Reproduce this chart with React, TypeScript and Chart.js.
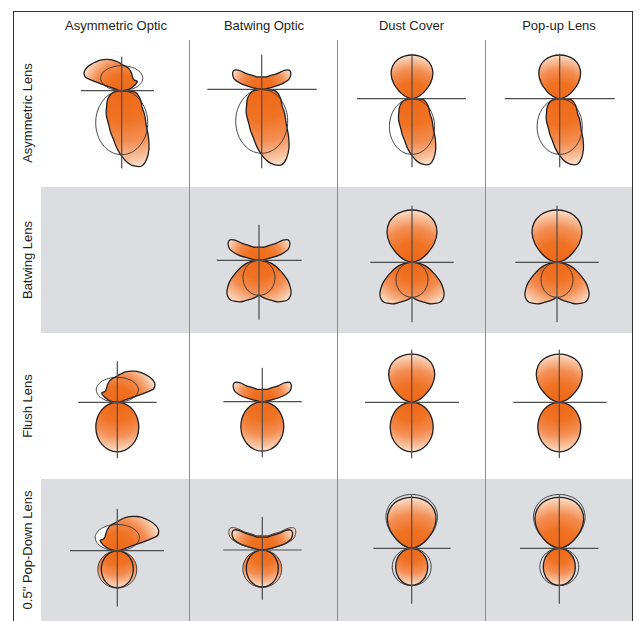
import React, { useEffect, useRef } from 'react';
import { Chart, registerables } from 'chart.js';

Chart.register(...registerables);

const W = 639;
const H = 621;

// Categories
const OPTICS = ['Asymmetric Optic', 'Batwing Optic', 'Dust Cover', 'Pop-up Lens'];
const LENSES = ['Asymmetric Lens', 'Batwing Lens', 'Flush Lens', '0.5" Pop-Down Lens'];

// Relative intensity, full distributions from -90° to +90° in 5° steps (0° = lobe axis)
const DOWN_ASYMMETRIC_LENS = [0, 4, 8, 10.4, 12.2, 14, 15.8, 17.6, 19.4, 21.2, 23.9, 27.1, 30.2, 33.3, 37.2, 43, 48.8, 57.3, 65.5, 72.6, 76.7, 78, 73, 64.5, 53.6, 42.9, 36.8, 31.8, 26.9, 24.3, 22.4, 20.6, 18.8, 17, 15.2, 13, 0];
const UP_ASYMMETRIC_OPTIC = [0, 3, 6, 9.5, 12.3, 15.3, 18.1, 17.5, 16.5, 16.5, 17.2, 18.3, 19.8, 21.3, 22.7, 23.7, 24.5, 25.2, 26.3, 28, 29.7, 31.4, 33, 34.5, 35.9, 37.2, 38.4, 39.5, 40.6, 41.6, 42.1, 41.6, 38, 6, 4, 2, 0];

// Symmetric distributions, 0°..90°
const UP_BATWING_OPTIC = [12.3, 12.4, 12.6, 12.8, 13.1, 14, 15.5, 17.3, 19.3, 22.5, 29.5, 33.5, 33.5, 31.8, 28.8, 21, 8.5, 3, 0];
const DOWN_BATWING_LENS = [35, 37, 38.9, 40.9, 43.4, 45.9, 47.4, 48.7, 48, 45.4, 40.6, 35.1, 28.5, 22.6, 18.2, 13.8, 9, 5, 0];
const UP_DUST_COVER = [52.3, 51.7, 49.9, 45.8, 38.9, 28.8, 17.6, 9.4, 2.5, 0];
const DOWN_FLUSH_LENS = [49.5, 48.3, 44.8, 39.7, 33.4, 26.7, 19.9, 13.2, 6.5, 0];
const DOWN_POPDOWN_LENS = [37, 36.1, 33.5, 29.6, 24.9, 19.9, 14.8, 9.8, 4.8, 0];

// Reference (comparison) outlines, symmetric 0°..90°
const REF_DOWN_ASYMMETRIC = [64, 62.1, 56.7, 49.1, 40.4, 31.6, 23.1, 15.1, 7.4, 0];
const REF_DOWN_BATWING = [35, 34.3, 32.2, 28.9, 24.8, 20.2, 15.3, 10.2, 5.1, 0];
const REF_DOWN_POPDOWN = [37.4, 36.9, 35.5, 33.1, 29.6, 25.2, 19.9, 13.8, 7, 0];
const REF_UP_ASYMMETRIC = [25, 25.1, 25.4, 25.8, 26.1, 25.9, 24.3, 19.9, 11.6, 0];

// Per-cell intensity multipliers [lens row][optic column]
const DOWN_SCALE = [
  [1, 1, 0.87, 0.87],
  [0, 1, 1, 1],
  [1, 1, 1, 1],
  [1, 1, 1, 1],
];
const UP_SCALE = [
  [1, 1, 0.836, 0.836],
  [0, 1.06, 1, 1],
  [1, 1, 0.923, 0.923],
  [1.1, 1.04, 0.975, 0.975],
];
const REF_UP_SCALE = [
  [1, 0, 0, 0],
  [0, 0, 0, 0],
  [1, 0, 0, 0],
  [1.05, 1.15, 1.03, 1.03],
];
// aiming side of the asymmetric optic per lens row (-1 = left, 1 = right)
const ASYM_AIM = [-1, 1, 1, 1];

// ---------- layout (positions only) ----------
const ROW_TOP = [40, 186.7, 332.7, 479.3];
const ROW_BOTTOM = [186.7, 332.7, 479.3, 625];
const COL_SEP = [189.5, 337.5, 485.3];
const COL_CENTER = [116, 264, 411.5, 559];
const GRID_LEFT = 41;
const GRID_RIGHT = 632;

type Cell = { o: [number, number]; c: [number, number, number, number] } | null;
const LAYOUT: Cell[][] = [
  [
    { o: [121.7, 90.7], c: [40.7, 32.3, 33.7, 77.3] },
    { o: [261.7, 89.3], c: [54.4, 55, 34.3, 78.4] },
    { o: [412, 98.7], c: [55, 54, 44.7, 68] },
    { o: [559.7, 98.7], c: [55, 55, 44.7, 68] },
  ],
  [
    null,
    { o: [259, 260.3], c: [42.3, 42.7, 35.3, 59] },
    { o: [412, 262.3], c: [41.7, 41.7, 56.3, 59.4] },
    { o: [557, 262.3], c: [41.7, 41.7, 56.3, 59.4] },
  ],
  [
    { o: [117.3, 402.3], c: [39, 39.3, 40.6, 55.4] },
    { o: [262.3, 401.7], c: [39, 39.4, 33.4, 55] },
    { o: [411.7, 402.3], c: [46.7, 47.3, 52.3, 55.4] },
    { o: [559.3, 402.3], c: [46, 47.3, 52.3, 55.4] },
  ],
  [
    { o: [117.3, 550.7], c: [47.3, 46.7, 41.4, 55.3] },
    { o: [262.3, 550], c: [39, 39.4, 32.7, 49.3] },
    { o: [411.7, 548.3], c: [38.4, 39, 52.6, 55] },
    { o: [559.3, 548.3], c: [39.3, 39, 52.6, 55] },
  ],
];

const LOBE_STOPS: [number, string][] = [
  [0, '#ee6818'],
  [0.38, '#f07223'],
  [0.66, '#f38d52'],
  [0.9, '#f9c6a4'],
  [1, '#fde4d4'],
];

type Sample = [number, number];
const full = (v: number[]): Sample[] => {
  const step = 180 / (v.length - 1);
  return v.map((r, i) => [-90 + i * step, r] as Sample);
};
const sym = (v: number[]): Sample[] => {
  const step = 90 / (v.length - 1);
  const out: Sample[] = [];
  for (let i = v.length - 1; i > 0; i--) out.push([-i * step, v[i]]);
  v.forEach((r, i) => out.push([i * step, r]));
  return out;
};

type Curve = {
  kind: 'lobe' | 'ref';
  pts: Sample[];
  dir: number;
  scale: number;
  mirror: number;
  fill?: 'white' | 'grad' | null;
};

function cellCurves(row: number, col: number): Curve[] {
  const list: Curve[] = [];
  const ds = DOWN_SCALE[row][col];
  if (!ds) return list;
  const downShape = [full(DOWN_ASYMMETRIC_LENS), sym(DOWN_BATWING_LENS), sym(DOWN_FLUSH_LENS), sym(DOWN_POPDOWN_LENS)][row];
  list.push({ kind: 'lobe', pts: downShape, dir: 1, scale: ds, mirror: 1 });
  const downRef = [sym(REF_DOWN_ASYMMETRIC), sym(REF_DOWN_BATWING), null, sym(REF_DOWN_POPDOWN)][row];
  if (downRef) list.push({ kind: 'ref', pts: downRef, dir: 1, scale: ds, mirror: 1, fill: row === 3 && col < 2 ? 'grad' : null });
  const upShape = [full(UP_ASYMMETRIC_OPTIC), sym(UP_BATWING_OPTIC), sym(UP_DUST_COVER), sym(UP_DUST_COVER)][col];
  list.push({ kind: 'lobe', pts: upShape, dir: -1, scale: UP_SCALE[row][col], mirror: col === 0 ? ASYM_AIM[row] : 1 });
  const rs = REF_UP_SCALE[row][col];
  if (rs) {
    const refShape = col === 0 ? sym(REF_UP_ASYMMETRIC) : upShape;
    list.push({ kind: 'ref', pts: refShape, dir: -1, scale: rs, mirror: 1, fill: col === 0 ? 'white' : col === 1 ? 'grad' : null });
  }
  return list;
}

function gradient(ox: number, oy: number, R: number) {
  return (ctx: any) => {
    const chart = ctx.chart;
    const xs = chart && chart.scales ? chart.scales.x : null;
    const ys = chart && chart.scales ? chart.scales.y : null;
    if (!xs || !ys || !chart.chartArea) return LOBE_STOPS[1][1];
    const px = xs.getPixelForValue(ox);
    const py = ys.getPixelForValue(oy);
    const pr = Math.abs(xs.getPixelForValue(ox + R) - px);
    if (!isFinite(px) || !isFinite(py) || !isFinite(pr) || pr <= 0) return LOBE_STOPS[1][1];
    const g = chart.ctx.createRadialGradient(px, py, 0, px, py, pr);
    LOBE_STOPS.forEach(([o, c]) => g.addColorStop(o, c));
    return g;
  };
}

function buildDatasets() {
  const datasets: any[] = [];
  const base = { showLine: true, pointRadius: 0, pointHoverRadius: 0, borderJoinStyle: 'round', clip: false };
  LENSES.forEach((_, row) => {
    OPTICS.forEach((__, col) => {
      const cell = LAYOUT[row][col];
      if (!cell) return;
      const [ox, oy] = cell.o;
      for (const c of cellCurves(row, col)) {
        const data = c.pts.map(([a, r]) => {
          const t = (a * c.mirror * Math.PI) / 180;
          return { x: ox + r * c.scale * Math.sin(t), y: oy + c.dir * r * c.scale * Math.cos(t) };
        });
        const R = c.scale * Math.max(...c.pts.map((p) => p[1]));
        if (c.kind === 'lobe') {
          datasets.push({ ...base, data, order: 3, fill: 'shape', backgroundColor: gradient(ox, oy, R), borderColor: '#231f20', borderWidth: 1.3, tension: 0.35 });
        } else {
          if (c.fill) {
            datasets.push({ ...base, data, order: 5, fill: 'shape', backgroundColor: c.fill === 'white' ? '#ffffff' : gradient(ox, oy, R), borderWidth: 0, borderColor: 'rgba(0,0,0,0)', tension: 0.35 });
          }
          datasets.push({ ...base, data, order: 2, fill: false, borderColor: '#333333', borderWidth: 0.9, backgroundColor: 'rgba(0,0,0,0)', tension: 0.35 });
        }
      }
      const [L, Rr, U, D] = cell.c;
      const axisStyle = { ...base, order: 1, fill: false, borderColor: '#4d4d4d', borderWidth: 1.2, tension: 0 };
      datasets.push({ ...axisStyle, data: [{ x: ox - L, y: oy }, { x: ox + Rr, y: oy }] });
      datasets.push({ ...axisStyle, data: [{ x: ox, y: oy - U }, { x: ox, y: oy + D }] });
    });
  });
  return datasets;
}

export default function App() {
  const ref = useRef<HTMLCanvasElement>(null);
  useEffect(() => {
    if (!ref.current) return;
    let chart: Chart | null = null;
    try {
      chart = new Chart(ref.current, {
        type: 'scatter',
        data: { datasets: buildDatasets() },
        options: {
          animation: false,
          responsive: false,
          events: [],
          layout: { padding: 0 },
          plugins: { legend: { display: false }, tooltip: { enabled: false } },
          scales: {
            x: { type: 'linear', min: 0, max: W, display: false },
            y: { type: 'linear', min: 0, max: H, reverse: true, display: false },
          },
        } as any,
      });
    } catch (e) {
      console.error(e);
    }
    return () => {
      if (chart) chart.destroy();
    };
  }, []);

  const font = '"Liberation Sans", Arial, Helvetica, sans-serif';
  return (
    <div style={{ position: 'fixed', left: 0, top: 0, width: W, height: H, overflow: 'hidden', background: '#ffffff', fontFamily: font, fontSize: 13, color: '#231f20' }}>
      {ROW_TOP.map((t, i) =>
        i % 2 === 1 ? (
          <div key={'g' + i} style={{ position: 'absolute', left: GRID_LEFT, top: t, width: GRID_RIGHT - GRID_LEFT, height: ROW_BOTTOM[i] - t, background: '#dcdde0' }} />
        ) : null
      )}
      {COL_SEP.map((x, i) => (
        <div key={'s' + i} style={{ position: 'absolute', left: x - 0.6, top: 40, width: 1.2, height: H - 40, background: '#8c8c8c' }} />
      ))}
      <div style={{ position: 'absolute', left: 12.5, top: 10.5, width: GRID_RIGHT - 12.5 + 1, height: H, borderLeft: '1px solid #333', borderTop: '1px solid #333', borderRight: '1px solid #333', boxSizing: 'border-box' }} />
      {OPTICS.map((t, i) => (
        <div key={'h' + i} style={{ position: 'absolute', left: COL_CENTER[i], top: 25, transform: 'translate(-50%, -50%)', whiteSpace: 'nowrap', lineHeight: 1 }}>
          {t}
        </div>
      ))}
      {LENSES.map((t, i) => (
        <div key={'r' + i} style={{ position: 'absolute', left: 27, top: (ROW_TOP[i] + Math.min(ROW_BOTTOM[i], 621)) / 2, transform: 'translate(-50%, -50%) rotate(-90deg)', whiteSpace: 'nowrap', lineHeight: 1 }}>
          {t}
        </div>
      ))}
      <canvas ref={ref} width={W} height={H} style={{ position: 'absolute', left: 0, top: 0, width: W, height: H }} />
    </div>
  );
}
